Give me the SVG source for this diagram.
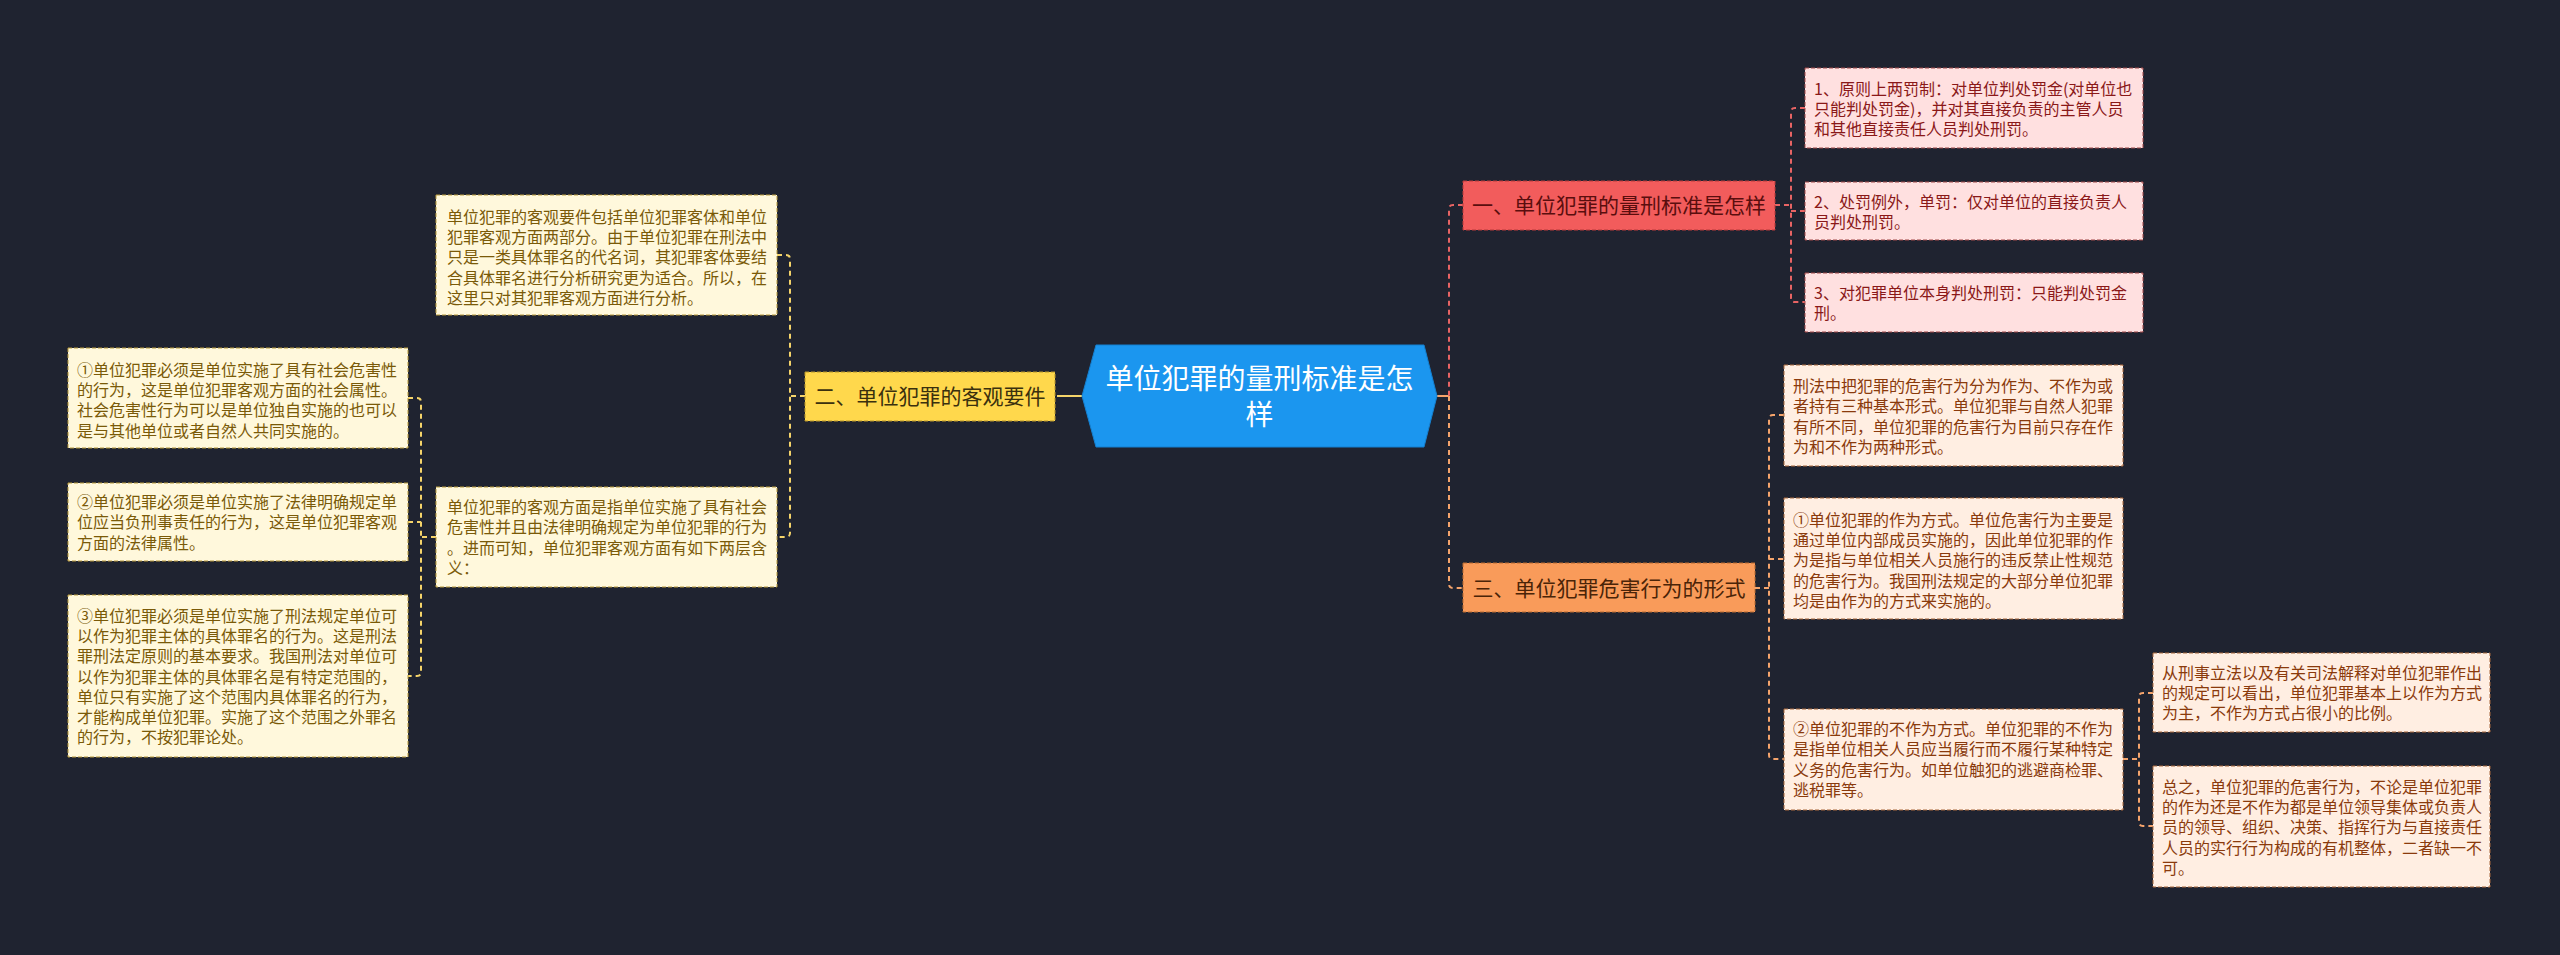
<svg xmlns="http://www.w3.org/2000/svg" width="2560" height="955" viewBox="0 0 2560 955">
<defs>
<style>
.t{font-family:"Noto Sans CJK SC","Noto Sans",sans-serif;}
.leaf{font-size:16px;}
.br{font-size:21px;text-anchor:middle;}
.yl rect{fill:#fff8dc;stroke:#b89a3a;stroke-width:1;stroke-dasharray:4,2;}
.yl text{fill:#7a5a08;}
.rl rect{fill:#ffe0e0;stroke:#a04848;stroke-width:1;stroke-dasharray:4,2;}
.rl text{fill:#8a1818;}
.ol rect{fill:#ffeee2;stroke:#a8683c;stroke-width:1;stroke-dasharray:4,2;}
.ol text{fill:#8a3a0c;}
.c{fill:none;stroke-width:2;}
.d{stroke-dasharray:5,4;}
.cy{stroke:#f5d46a;}
.cr{stroke:#e86464;}
.co{stroke:#f5a46c;}
</style>
</defs>
<rect x="0" y="0" width="2560" height="955" fill="#1f2330"/>

<g id="connectors">
<path class="c cy" d="M1083,396 H1057"/>
<path class="c cy d" d="M805,396 H790"/>
<path class="c cy d" d="M777,255 H786 Q790,255 790,259 V533 Q790,537 786,537 H777"/>
<path class="c cy d" d="M436,537 H421"/>
<path class="c cy d" d="M408,398 H417 Q421,398 421,402 V672 Q421,676 417,676 H408"/>
<path class="c cy d" d="M408,522 H421"/>
<path class="c co" d="M1435,396 H1449"/>
<path class="c cr d" d="M1463,205 H1453 Q1449,205 1449,209 V396"/>
<path class="c co d" d="M1449,396 V584 Q1449,588 1453,588 H1463"/>
<path class="c cr d" d="M1775,205 H1791"/>
<path class="c cr d" d="M1805,108 H1795 Q1791,108 1791,112 V298 Q1791,302 1795,302 H1805"/>
<path class="c cr d" d="M1791,211 H1805"/>
<path class="c co d" d="M1755,588 H1769"/>
<path class="c co d" d="M1784,415 H1773 Q1769,415 1769,419 V755 Q1769,759 1773,759 H1784"/>
<path class="c co d" d="M1769,559 H1784"/>
<path class="c co d" d="M2123,759 H2139"/>
<path class="c co d" d="M2153,693 H2143 Q2139,693 2139,697 V822 Q2139,826 2143,826 H2153"/>
</g>

<g id="root">
<polygon points="1082,396 1096,345 1424,345 1437,396 1424,447 1096,447" fill="#1b96ef" stroke="#1580d0" stroke-width="1"/>
<text class="t" x="1259.5" y="389" font-size="28" fill="#ffffff" text-anchor="middle">单位犯罪的量刑标准是怎</text>
<text class="t" x="1259.5" y="425" font-size="28" fill="#ffffff" text-anchor="middle">样</text>
</g>

<g id="b2">
<rect x="805" y="372" width="250" height="49" fill="#ffd84c" stroke="#b8962a" stroke-width="1" stroke-dasharray="4,2"/>
<text class="t br" x="930" y="403.5" fill="#3a300e">二、单位犯罪的客观要件</text>
</g>

<g id="b2a" class="yl">
<rect x="436" y="195" width="341" height="120"/>
<text class="t leaf" x="447"><tspan x="447" y="222.6">单位犯罪的客观要件包括单位犯罪客体和单位</tspan><tspan x="447" y="242.9">犯罪客观方面两部分。由于单位犯罪在刑法中</tspan><tspan x="447" y="263.2">只是一类具体罪名的代名词，其犯罪客体要结</tspan><tspan x="447" y="283.5">合具体罪名进行分析研究更为适合。所以，在</tspan><tspan x="447" y="303.8">这里只对其犯罪客观方面进行分析。</tspan></text>
</g>

<g id="b2b" class="yl">
<rect x="436" y="487" width="341" height="100"/>
<text class="t leaf" x="447"><tspan x="447" y="513.1">单位犯罪的客观方面是指单位实施了具有社会</tspan><tspan x="447" y="533.4">危害性并且由法律明确规定为单位犯罪的行为</tspan><tspan x="447" y="553.7">。进而可知，单位犯罪客观方面有如下两层含</tspan><tspan x="447" y="574">义：</tspan></text>
</g>

<g id="b2b1" class="yl">
<rect x="68" y="348" width="340" height="100"/>
<text class="t leaf" x="77"><tspan x="77" y="375.6">①单位犯罪必须是单位实施了具有社会危害性</tspan><tspan x="77" y="395.9">的行为，这是单位犯罪客观方面的社会属性。</tspan><tspan x="77" y="416.2">社会危害性行为可以是单位独自实施的也可以</tspan><tspan x="77" y="436.5">是与其他单位或者自然人共同实施的。</tspan></text>
</g>

<g id="b2b2" class="yl">
<rect x="68" y="483" width="340" height="78"/>
<text class="t leaf" x="77"><tspan x="77" y="508.1">②单位犯罪必须是单位实施了法律明确规定单</tspan><tspan x="77" y="528.4">位应当负刑事责任的行为，这是单位犯罪客观</tspan><tspan x="77" y="548.7">方面的法律属性。</tspan></text>
</g>

<g id="b2b3" class="yl">
<rect x="68" y="595" width="340" height="162"/>
<text class="t leaf" x="77"><tspan x="77" y="621.6">③单位犯罪必须是单位实施了刑法规定单位可</tspan><tspan x="77" y="641.9">以作为犯罪主体的具体罪名的行为。这是刑法</tspan><tspan x="77" y="662.2">罪刑法定原则的基本要求。我国刑法对单位可</tspan><tspan x="77" y="682.5">以作为犯罪主体的具体罪名是有特定范围的，</tspan><tspan x="77" y="702.8">单位只有实施了这个范围内具体罪名的行为，</tspan><tspan x="77" y="723.1">才能构成单位犯罪。实施了这个范围之外罪名</tspan><tspan x="77" y="743.4">的行为，不按犯罪论处。</tspan></text>
</g>

<g id="b1">
<rect x="1463" y="181" width="312" height="49" fill="#f25c5c" stroke="#b83a3a" stroke-width="1" stroke-dasharray="4,2"/>
<text class="t br" x="1619" y="212.5" fill="#5a0e0e">一、单位犯罪的量刑标准是怎样</text>
</g>

<g id="b1a" class="rl">
<rect x="1805" y="68" width="338" height="80"/>
<text class="t leaf" x="1814"><tspan x="1814" y="94.6">1、原则上两罚制：对单位判处罚金(对单位也</tspan><tspan x="1814" y="114.9">只能判处罚金)，并对其直接负责的主管人员</tspan><tspan x="1814" y="135.2">和其他直接责任人员判处刑罚。</tspan></text>
</g>

<g id="b1b" class="rl">
<rect x="1805" y="182" width="338" height="58"/>
<text class="t leaf" x="1814"><tspan x="1814" y="208.1">2、处罚例外，单罚：仅对单位的直接负责人</tspan><tspan x="1814" y="228.4">员判处刑罚。</tspan></text>
</g>

<g id="b1c" class="rl">
<rect x="1805" y="273" width="338" height="59"/>
<text class="t leaf" x="1814"><tspan x="1814" y="298.6">3、对犯罪单位本身判处刑罚：只能判处罚金</tspan><tspan x="1814" y="319.4">刑。</tspan></text>
</g>

<g id="b3">
<rect x="1463" y="563" width="292" height="49" fill="#f99b5a" stroke="#b86a30" stroke-width="1" stroke-dasharray="4,2"/>
<text class="t br" x="1609" y="595.5" fill="#4a2408">三、单位犯罪危害行为的形式</text>
</g>

<g id="b3a" class="ol">
<rect x="1784" y="365" width="339" height="101"/>
<text class="t leaf" x="1793"><tspan x="1793" y="392.1">刑法中把犯罪的危害行为分为作为、不作为或</tspan><tspan x="1793" y="412.4">者持有三种基本形式。单位犯罪与自然人犯罪</tspan><tspan x="1793" y="432.7">有所不同，单位犯罪的危害行为目前只存在作</tspan><tspan x="1793" y="453">为和不作为两种形式。</tspan></text>
</g>

<g id="b3b" class="ol">
<rect x="1784" y="498" width="339" height="121"/>
<text class="t leaf" x="1793"><tspan x="1793" y="525.6">①单位犯罪的作为方式。单位危害行为主要是</tspan><tspan x="1793" y="545.9">通过单位内部成员实施的，因此单位犯罪的作</tspan><tspan x="1793" y="566.2">为是指与单位相关人员施行的违反禁止性规范</tspan><tspan x="1793" y="586.5">的危害行为。我国刑法规定的大部分单位犯罪</tspan><tspan x="1793" y="606.8">均是由作为的方式来实施的。</tspan></text>
</g>

<g id="b3c" class="ol">
<rect x="1784" y="709" width="339" height="101"/>
<text class="t leaf" x="1793"><tspan x="1793" y="735.1">②单位犯罪的不作为方式。单位犯罪的不作为</tspan><tspan x="1793" y="755.4">是指单位相关人员应当履行而不履行某种特定</tspan><tspan x="1793" y="775.7">义务的危害行为。如单位触犯的逃避商检罪、</tspan><tspan x="1793" y="796">逃税罪等。</tspan></text>
</g>

<g id="b3c1" class="ol">
<rect x="2153" y="653" width="337" height="79"/>
<text class="t leaf" x="2162"><tspan x="2162" y="678.6">从刑事立法以及有关司法解释对单位犯罪作出</tspan><tspan x="2162" y="698.9">的规定可以看出，单位犯罪基本上以作为方式</tspan><tspan x="2162" y="719.2">为主，不作为方式占很小的比例。</tspan></text>
</g>

<g id="b3c2" class="ol">
<rect x="2153" y="766" width="337" height="121"/>
<text class="t leaf" x="2162"><tspan x="2162" y="792.6">总之，单位犯罪的危害行为，不论是单位犯罪</tspan><tspan x="2162" y="812.9">的作为还是不作为都是单位领导集体或负责人</tspan><tspan x="2162" y="833.2">员的领导、组织、决策、指挥行为与直接责任</tspan><tspan x="2162" y="853.5">人员的实行行为构成的有机整体，二者缺一不</tspan><tspan x="2162" y="873.8">可。</tspan></text>
</g>
</svg>
